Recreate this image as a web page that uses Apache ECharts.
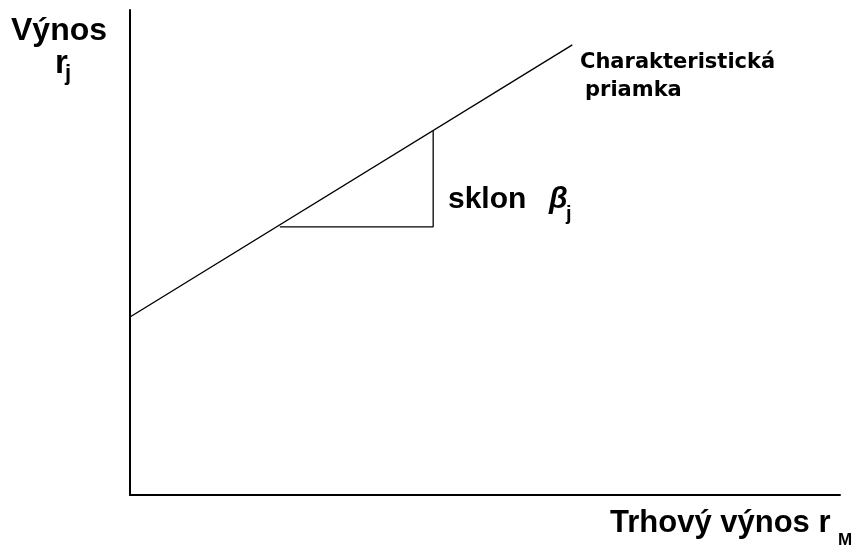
<!DOCTYPE html>
<html style="height: 100%">
<head>
<meta charset="utf-8">
<title>Charakteristická priamka</title>
</head>
<body style="height: 100%; margin: 0; background: #fff">
<div id="container" style="width: 858px; height: 546px"></div>
<script src="https://cdn.jsdelivr.net/npm/echarts@6/dist/echarts.min.js"></script>
<script>
// characteristic line: x = market return, y = asset return
var lineX = [0, 62.3];
var lineY = [36.7, 92.8];
// slope triangle
var triX = [21.1, 42.7, 42.7];
var triY = [55.3, 55.3, 75.1];

var arial = '"Liberation Sans", Arial, sans-serif';
var dejavu = '"DejaVu Sans", Verdana, sans-serif';
var myChart = echarts.init(document.getElementById('container'));

function txt(s, left, top, font) {
    return { type: 'text', left: left, top: top, style: { text: s, font: font, fill: '#000' } };
}

var option = {
    backgroundColor: '#fff',
    animation: false,
    grid: { left: 130, right: 18, top: 10, bottom: 51 },
    xAxis: {
        type: 'value', min: 0, max: 100,
        axisLine: { lineStyle: { color: '#000', width: 2 } },
        axisTick: { show: false }, axisLabel: { show: false }, splitLine: { show: false }
    },
    yAxis: {
        type: 'value', min: 0, max: 100,
        axisLine: { show: true, lineStyle: { color: '#000', width: 2 } },
        axisTick: { show: false }, axisLabel: { show: false }, splitLine: { show: false }
    },
    series: [
        {
            type: 'line', symbol: 'none',
            lineStyle: { color: '#000', width: 1.3 },
            data: lineX.map(function (x, i) { return [x, lineY[i]]; })
        },
        {
            type: 'line', symbol: 'none',
            lineStyle: { color: '#000', width: 1.3 },
            data: triX.map(function (x, i) { return [x, triY[i]]; })
        }
    ],
    graphic: [
        txt('Výnos', 11, 15, 'bold 32px ' + arial),
        txt('r', 55, 47, 'bold 33px ' + arial),
        txt('j', 65, 63, 'bold 22px ' + arial),
        txt('Charakteristická', 580, 52, 'bold 21px ' + dejavu),
        txt('priamka', 585, 80, 'bold 21px ' + dejavu),
        txt('sklon', 448, 185, 'bold 30px ' + arial),
        txt('β', 549, 185, 'italic bold 30px ' + arial),
        txt('j', 566, 204, 'bold 20px ' + arial),
        txt('Trhový výnos r', 610, 508, 'bold 31px ' + arial),
        txt('M', 838, 532, 'bold 17px ' + arial)
    ]
};
myChart.setOption(option);
</script>
</body>
</html>
